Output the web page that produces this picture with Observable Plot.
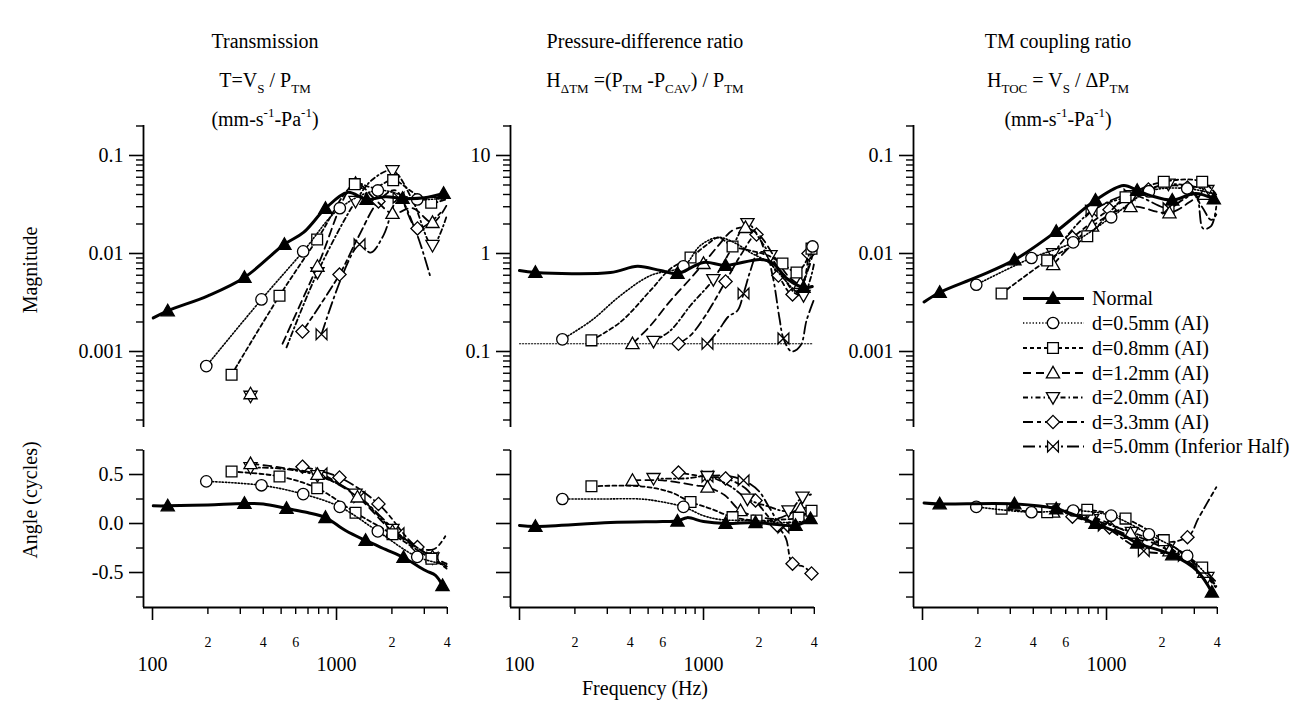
<!DOCTYPE html>
<html><head><meta charset="utf-8">
<script src="https://cdn.jsdelivr.net/npm/d3@7"></script>
<script src="https://cdn.jsdelivr.net/npm/@observablehq/plot@0.6"></script>
<style>
body{margin:0;background:#fff;}
#root{position:relative;width:1302px;height:702px;overflow:hidden;font-family:'Liberation Serif','Times New Roman',Times,serif;background:#fff;}
#root svg{position:absolute;overflow:visible;font-family:'Liberation Serif','Times New Roman',Times,serif;}
#root svg text{font-family:'Liberation Serif','Times New Roman',Times,serif;}
</style></head><body><div id="root"></div>
<script>
// ---------- tick labels / categories ----------
const seriesNames = ["Normal","d=0.5mm (AI)","d=0.8mm (AI)","d=1.2mm (AI)","d=2.0mm (AI)","d=3.3mm (AI)","d=5.0mm (Inferior Half)"];
const freqMajor = [100, 1000];
const freqMinor = [200,300,400,500,600,700,800,900,2000,3000,4000];
const freqMinorLabels = {200:"2",400:"4",600:"6",800:"8",2000:"2",4000:"4"};
const magTicksT = [0.001, 0.01, 0.1];
const magTicksH = [0.1, 1, 10];
const angTicks = [-0.5, 0, 0.5];
const angMinor = [-0.75, -0.25, 0.25, 0.75];
const floorH = [[100, 0.12], [3900, 0.12]];

// ---------- data: [frequency Hz, value, marker?] ----------
// Transmission magnitude
const magT_normal = [[101,0.0022],[121,0.0026,1],[200,0.0037],[316,0.0057,1],[521,0.0124,1],[662,0.0164],[871,0.0288,1],[1148,0.042],[1456,0.0356,1],[1846,0.038],[2285,0.0364,1],[3000,0.037],[3819,0.041,1]];
const magT_05 = [[196,0.00071,1],[391,0.0034,1],[659,0.0105,1],[1042,0.029,1],[1677,0.044,1],[2745,0.0356,1],[3672,0.036],[3980,0.035]];
const magT_08 = [[269,0.00058,1],[490,0.0037,1],[785,0.0139,1],[1257,0.051,1],[1600,0.047],[2032,0.056,1],[2600,0.042],[3271,0.033,1],[3950,0.036]];
const magT_12 = [[341,0.00037,1],[NaN,NaN],[509,0.0012],[788,0.0074,1],[1269,0.052,1],[1589,0.037],[2015,0.0256,1],[2588,0.029],[3324,0.0207,1],[3963,0.031]];
const magT_20 = [[341,0.00035,1],[NaN,NaN],[535,0.0011],[788,0.0064,1],[1269,0.034,1],[1589,0.058],[2015,0.07,1],[2588,0.035],[3324,0.0121,1],[3963,0.024]];
const magT_33 = [[653,0.0016,1],[1038,0.0061,1],[1318,0.0149],[1690,0.034,1],[2093,0.044],[2754,0.018,1],[3673,0.026]];
const magT_50 = [[829,0.0015,1],[1334,0.0124,1],[1530,0.0102],[1800,0.0153],[2173,0.037,1],[2685,0.0172],[3243,0.0057]];
// Transmission angle (cycles)
const angT_normal = [[101,0.18],[121,0.18,1],[200,0.19],[316,0.205,1],[400,0.2],[535,0.153,1],[695,0.112],[871,0.061,1],[1119,-0.071],[1439,-0.173,1],[1846,-0.265],[2313,-0.347,1],[3046,-0.48],[3451,-0.53],[3767,-0.633,1]];
const angT_05 = [[196,0.43,1],[391,0.39,1],[659,0.30,1],[1042,0.17,1],[1677,-0.08,1],[2745,-0.34,1],[3963,-0.42]];
const angT_08 = [[269,0.53,1],[490,0.48,1],[785,0.36,1],[1269,0.11,1],[2015,-0.11,1],[3280,-0.36,1],[3963,-0.44]];
const angT_12 = [[341,0.61,1],[500,0.57],[788,0.50,1],[1300,0.27,1],[2015,-0.08,1],[3324,-0.34,1],[3963,-0.41]];
const angT_20 = [[341,0.57,1],[500,0.56],[788,0.49,1],[1269,0.30,1],[2015,-0.06,1],[3324,-0.35,1],[3963,-0.44]];
const angT_33 = [[653,0.58,1],[1038,0.47,1],[1690,0.20,1],[2754,-0.24,1],[3400,-0.26],[3900,-0.13]];
const angT_50 = [[829,0.51,1],[1334,0.27,1],[2173,-0.10,1],[3324,-0.35,1],[3963,-0.46]];
// Pressure-difference ratio magnitude
const magH_normal = [[100,0.67],[122,0.64,1],[312,0.64],[438,0.74],[584,0.67],[722,0.625,1],[1000,0.81],[1318,0.755,1],[2041,0.87],[2372,0.8],[2861,0.55],[3495,0.45,1],[3900,0.46]];
const magH_05 = [[171,0.133,1],[246,0.207],[354,0.373],[515,0.596],[778,0.74,1],[963,1.21],[1206,1.46],[1494,1.27],[1800,1.02],[2255,0.81],[2790,0.53],[3284,0.40],[3912,1.18,1]];
const magH_08 = [[246,0.13,1],[354,0.2],[515,0.42],[662,0.70],[850,0.91,1],[1025,1.2],[1206,1.45],[1438,1.18,1],[1800,1.07],[2255,0.95],[2685,0.79,1],[3203,0.64,1],[3495,0.75],[3863,1.12,1]];
const magH_12 = [[411,0.12,1],[515,0.184],[662,0.331],[850,0.556],[1000,0.79,1],[1206,1.21],[1438,1.72],[1690,1.84,1],[2041,1.49],[2460,0.89],[2971,0.556],[3367,0.494,1],[3719,0.70],[3963,1.07]];
const magH_20 = [[535,0.127,1],[662,0.164],[850,0.295],[1131,0.543,1],[1402,1.07],[1733,2.02,1],[2041,1.36],[2313,0.954,1],[2790,0.53],[3162,0.39],[3495,0.373,1],[3815,0.556],[4000,0.81]];
const magH_33 = [[731,0.12,1],[850,0.146],[1025,0.233],[1318,0.518,1],[1589,0.954],[1941,1.56,1],[2173,1.02],[2553,0.596,1],[3046,0.382,1],[3451,0.471],[3719,1.0,1]];
const magH_50 = [[1051,0.12,1],[1206,0.164],[1368,0.228],[1532,0.262],[1650,0.39,1],[1800,0.671],[1966,1.0],[2173,1.02],[2372,0.596],[2588,0.217],[2719,0.136,1],[3010,0.1],[3367,0.115],[3629,0.207],[3963,0.331]];
// Pressure-difference ratio angle
const angH_normal = [[100,-0.02],[122,-0.03,1],[312,0.01],[600,0.02],[722,0.025,1],[815,0.06],[1000,0.02],[1318,0.0,1],[1917,0.01,1],[2515,-0.01],[3162,-0.02,1],[3815,0.05,1]];
const angH_05 = [[171,0.25,1],[275,0.25],[455,0.25],[557,0.23],[778,0.17,1],[1000,0.08],[1236,0.04],[1900,0.03],[2800,0.01],[3900,0.03]];
const angH_08 = [[246,0.38,1],[455,0.38],[662,0.32],[850,0.22,1],[1100,0.15],[1438,0.065,1],[1941,0.03,1],[2600,0.04],[3284,0.06,1],[3863,0.13,1]];
const angH_12 = [[411,0.44,1],[600,0.44],[900,0.39],[1051,0.37,1],[1300,0.29],[1589,0.13,1],[2000,0.07],[2500,0.05],[3367,0.15,1],[3963,0.17]];
const angH_20 = [[535,0.46,1],[800,0.46],[1051,0.48,1],[1400,0.38],[1733,0.25,1],[2200,0.18],[2898,0.13,1],[3451,0.27,1],[3963,0.3]];
const angH_33 = [[731,0.52,1],[1000,0.48],[1318,0.46,1],[1690,0.36],[1917,0.235,1],[2300,0.05],[2515,-0.02,1],[2800,-0.15],[3046,-0.41,1],[3500,-0.44],[3863,-0.51,1]];
const angH_50 = [[1051,0.48,1],[1300,0.49],[1650,0.44,1],[2000,0.33],[2300,0.15],[2719,-0.04,1],[3200,0.02],[3700,0.05]];
// TM coupling ratio magnitude
const magC_normal = [[102,0.0032],[124,0.004,1],[200,0.0058],[316,0.0086,1],[533,0.0168,1],[662,0.0233],[871,0.035,1],[1236,0.0494],[1468,0.044,1],[1735,0.039],[2276,0.035,1],[3046,0.041],[3828,0.036,1]];
const magC_05 = [[196,0.0048,1],[391,0.009,1],[659,0.013,1],[1060,0.0234,1],[1700,0.043,1],[2745,0.046,1],[3950,0.04]];
const magC_08 = [[269,0.0039,1],[476,0.0085,1],[786,0.015,1],[1269,0.0375,1],[2047,0.054,1],[3311,0.054,1],[3950,0.04]];
const magC_12 = [[513,0.0077,1],[835,0.019,1],[1350,0.030,1],[2198,0.026,1],[3400,0.04,1],[3950,0.035]];
const magC_20 = [[513,0.010,1],[835,0.0275,1],[1374,0.039,1],[2170,0.051,1],[3532,0.044,1],[3950,0.038]];
const magC_33 = [[653,0.0145,1],[1038,0.028,1],[1690,0.045,1],[2754,0.047,1],[3300,0.03],[3700,0.022],[3950,0.025]];
const magC_50 = [[829,0.027,1],[1334,0.040,1],[2173,0.029,1],[2579,0.035],[3050,0.04],[3350,0.018],[3700,0.019],[3950,0.03]];
// TM coupling ratio angle
const angC_normal = [[102,0.21],[124,0.2,1],[316,0.2,1],[533,0.15,1],[871,0.0,1],[1236,-0.12],[1468,-0.2,1],[2276,-0.32,1],[3100,-0.48],[3737,-0.7,1]];
const angC_05 = [[196,0.17,1],[391,0.115,1],[659,0.133,1],[1060,0.08,1],[1700,-0.11,1],[2745,-0.33,1],[3900,-0.62]];
const angC_08 = [[269,0.15,1],[476,0.115,1],[786,0.14,1],[1269,0.05,1],[2047,-0.17,1],[3311,-0.45,1],[3950,-0.6]];
const angC_12 = [[513,0.115,1],[835,0.065,1],[1350,-0.1,1],[2198,-0.28,1],[3400,-0.5,1],[3950,-0.62]];
const angC_20 = [[513,0.15,1],[835,0.04,1],[1374,-0.09,1],[2170,-0.24,1],[3532,-0.55,1],[3950,-0.64]];
const angC_33 = [[653,0.07,1],[1038,-0.04,1],[1690,-0.19,1],[2754,-0.14,1],[3150,0.05],[3500,0.2],[3950,0.37]];
const angC_50 = [[800,0.06],[966,-0.02,1],[1594,-0.28,1],[2630,-0.33,1],[3950,-0.66]];

// ---------- symbols ----------
const R = s => Math.sqrt(s / Math.PI);
const symCircle = {draw(c, s){ const r = R(s)*0.95; c.moveTo(r,0); c.arc(0,0,r,0,2*Math.PI); c.closePath(); }};
const symSquare = {draw(c, s){ const h = R(s)*0.9; c.moveTo(-h,-h); c.lineTo(h,-h); c.lineTo(h,h); c.lineTo(-h,h); c.closePath(); }};
const symTriUp = {draw(c, s){ const h = R(s)*1.1; c.moveTo(0,-h); c.lineTo(h,h*0.75); c.lineTo(-h,h*0.75); c.closePath(); }};
const symTriDown = {draw(c, s){ const h = R(s)*1.1; c.moveTo(0,h); c.lineTo(h,-h*0.75); c.lineTo(-h,-h*0.75); c.closePath(); }};
const symDiamond = {draw(c, s){ const h = R(s)*1.1; c.moveTo(0,-h); c.lineTo(h,0); c.lineTo(0,h); c.lineTo(-h,0); c.closePath(); }};
const symBowtie = {draw(c, s){ const h = R(s)*0.9; c.moveTo(-h,-h); c.lineTo(h,h); c.lineTo(h,-h); c.lineTo(-h,h); c.closePath(); }};

const styles = [
  {sym: symTriUp, dash: null, width: 3, fill: "black"},
  {sym: symCircle, dash: "1.3,1.9", width: 1.6, fill: "white"},
  {sym: symSquare, dash: "4,3", width: 1.8, fill: "white"},
  {sym: symTriUp, dash: "8,5", width: 1.8, fill: "white"},
  {sym: symTriDown, dash: "5,3,1.5,3", width: 1.8, fill: "white"},
  {sym: symDiamond, dash: "10,4,4,4", width: 1.8, fill: "white"},
  {sym: symBowtie, dash: "12,4,2,4", width: 1.8, fill: "white"}
];

const FONT = "'Liberation Serif','Times New Roman',Times,serif";
const root = document.getElementById("root");
const xDom = [89.35, 4010];
const FW = 304;

function logMinor(decades, dom){
  const out = [];
  for (const d of decades) for (let k = 2; k <= 9; k++){ const v = k*d; if (v >= dom[0] && v <= dom[1]) out.push(v); }
  return out;
}

function panel(series, o){
  const mL = 80, mR = 10, mT = 10, mB = o.xaxis ? 75 : 10;
  const marks = [];
  marks.push(Plot.ruleX([xDom[0]], {stroke: "black", strokeWidth: 1.8}));
  if (o.xaxis) marks.push(Plot.ruleY([o.ydom[0]], {stroke: "black", strokeWidth: 1.8}));
  marks.push(Plot.axisY({anchor: "left", ticks: o.major, tickSize: 14, tickPadding: 6, tickFormat: o.fmt, fontSize: 20, fontFamily: FONT, strokeWidth: 1.6, label: null}));
  marks.push(Plot.axisY({anchor: "left", ticks: o.minor, tickSize: 7, tickFormat: () => "", strokeWidth: 1.4, label: null}));
  if (o.xaxis){
    marks.push(Plot.axisX({anchor: "bottom", ticks: freqMajor, tickSize: 13, tickPadding: 36, tickFormat: d => String(d), fontSize: 20, fontFamily: FONT, strokeWidth: 1.6, label: null}));
    marks.push(Plot.axisX({anchor: "bottom", ticks: freqMinor, tickSize: 7, tickPadding: 23, tickFormat: d => freqMinorLabels[d] || "", fontSize: 14, fontFamily: FONT, strokeWidth: 1.4, label: null}));
  }
  if (o.floor) marks.push(Plot.line(o.floor, {x: d => d[0], y: d => d[1], stroke: "black", strokeWidth: 1.2, strokeDasharray: "1.2,1.8"}));
  for (let i = series.length - 1; i >= 0; i--){
    const st = styles[i], data = series[i];
    marks.push(Plot.line(data, {x: d => d[0], y: d => d[1], curve: "catmull-rom", stroke: "black", strokeWidth: st.width, strokeDasharray: st.dash, strokeLinejoin: "round"}));
    marks.push(Plot.dot(data.filter(d => d[2] === 1), {x: d => d[0], y: d => d[1], symbol: st.sym, r: 6, fill: st.fill, stroke: "black", strokeWidth: 1.3}));
  }
  const chart = Plot.plot({
    width: mL + FW + mR, height: mT + o.h + mB,
    marginLeft: mL, marginRight: mR, marginTop: mT, marginBottom: mB,
    x: o.xaxis ? {type: "log", domain: xDom} : {type: "log", domain: xDom, axis: null},
    y: {type: o.ytype, domain: o.ydom},
    style: {background: "transparent", overflow: "visible", fontFamily: FONT, color: "black"},
    marks
  });
  chart.style.left = (o.left - mL) + "px";
  chart.style.top = (o.top - mT) + "px";
  root.appendChild(chart);
}

const domT = [1.677e-4, 0.2023], domH = [0.01677, 20.23], domA = [-0.857, 0.745];
const minorT = logMinor([1e-4,1e-3,1e-2,1e-1], domT);
const minorH = logMinor([1e-2,1e-1,1,10], domH);
const fmtMag = d => String(d);
const fmtAng = d => d.toFixed(1);
const none = () => "";
const lefts = [143, 510, 913];

panel([magT_normal, magT_05, magT_08, magT_12, magT_20, magT_33, magT_50], {left: lefts[0], top: 125, h: 302, ytype: "log", ydom: domT, major: magTicksT, minor: minorT, fmt: fmtMag});
panel([magH_normal, magH_05, magH_08, magH_12, magH_20, magH_33, magH_50], {left: lefts[1], top: 125, h: 302, ytype: "log", ydom: domH, major: magTicksH, minor: minorH, fmt: fmtMag, floor: floorH});
panel([magC_normal, magC_05, magC_08, magC_12, magC_20, magC_33, magC_50], {left: lefts[2], top: 125, h: 302, ytype: "log", ydom: domT, major: magTicksT, minor: minorT, fmt: fmtMag});
panel([angT_normal, angT_05, angT_08, angT_12, angT_20, angT_33, angT_50], {left: lefts[0], top: 450, h: 157, ytype: "linear", ydom: domA, major: angTicks, minor: angMinor, fmt: fmtAng, xaxis: true});
panel([angH_normal, angH_05, angH_08, angH_12, angH_20, angH_33, angH_50], {left: lefts[1], top: 450, h: 157, ytype: "linear", ydom: domA, major: angTicks, minor: angMinor, fmt: none, xaxis: true});
panel([angC_normal, angC_05, angC_08, angC_12, angC_20, angC_33, angC_50], {left: lefts[2], top: 450, h: 157, ytype: "linear", ydom: domA, major: angTicks, minor: angMinor, fmt: none, xaxis: true});

// ---------- text overlay ----------
const ov = d3.select(root).append("svg").attr("width", 1302).attr("height", 702)
  .style("left", "0px").style("top", "0px").style("font-family", FONT);

function rich(x, y, parts, size = 20){
  const t = ov.append("text").attr("x", x).attr("y", y).attr("text-anchor", "middle")
    .attr("font-size", size).style("white-space", "pre").style("font-family", FONT);
  let shift = 0;
  for (const [s, k] of parts){
    const target = k === "sub" ? 6 : k === "sup" ? -9 : 0;
    t.append("tspan").attr("dy", target - shift).attr("font-size", k === "n" ? size : 13).text(s);
    shift = target;
  }
  return t;
}
const titleX = [265, 645, 1058];
rich(titleX[0], 48, [["Transmission","n"]]);
rich(titleX[1], 48, [["Pressure-difference ratio","n"]]);
rich(titleX[2], 48, [["TM coupling ratio","n"]]);
rich(titleX[0], 87, [["T=V","n"],["S","sub"],[" / P","n"],["TM","sub"]]);
rich(titleX[1], 87, [["H","n"],["ΔTM","sub"],[" =(P","n"],["TM","sub"],[" -P","n"],["CAV","sub"],[") / P","n"],["TM","sub"]]);
rich(titleX[2], 87, [["H","n"],["TOC","sub"],[" = V","n"],["S","sub"],[" / ΔP","n"],["TM","sub"]]);
rich(titleX[0], 126, [["(mm-s","n"],["-1","sup"],["-Pa","n"],["-1","sup"],[")","n"]]);
rich(titleX[2], 126, [["(mm-s","n"],["-1","sup"],["-Pa","n"],["-1","sup"],[")","n"]]);

ov.append("text").attr("transform", "translate(37,270) rotate(-90)").attr("text-anchor", "middle").attr("font-size", 20).style("font-family", FONT).text("Magnitude");
ov.append("text").attr("transform", "translate(37,500) rotate(-90)").attr("text-anchor", "middle").attr("font-size", 20).style("font-family", FONT).text("Angle (cycles)");
ov.append("text").attr("x", 645).attr("y", 695).attr("text-anchor", "middle").attr("font-size", 20).style("font-family", FONT).text("Frequency (Hz)");

// ---------- legend ----------
const legY = [298.5, 323, 348, 373, 397.5, 422, 446.5];
seriesNames.forEach((name, i) => {
  const st = styles[i], y = legY[i];
  ov.append("line").attr("x1", 1023).attr("x2", 1084).attr("y1", y).attr("y2", y)
    .attr("stroke", "black").attr("stroke-width", st.width).attr("stroke-dasharray", st.dash);
  ov.append("path").attr("d", d3.symbol(st.sym, Math.PI * 36)()).attr("transform", `translate(1053,${y})`)
    .attr("fill", st.fill).attr("stroke", "black").attr("stroke-width", 1.3);
  ov.append("text").attr("x", 1092).attr("y", y + 6.5).attr("font-size", 20).style("font-family", FONT).text(name);
});
</script></body></html>
